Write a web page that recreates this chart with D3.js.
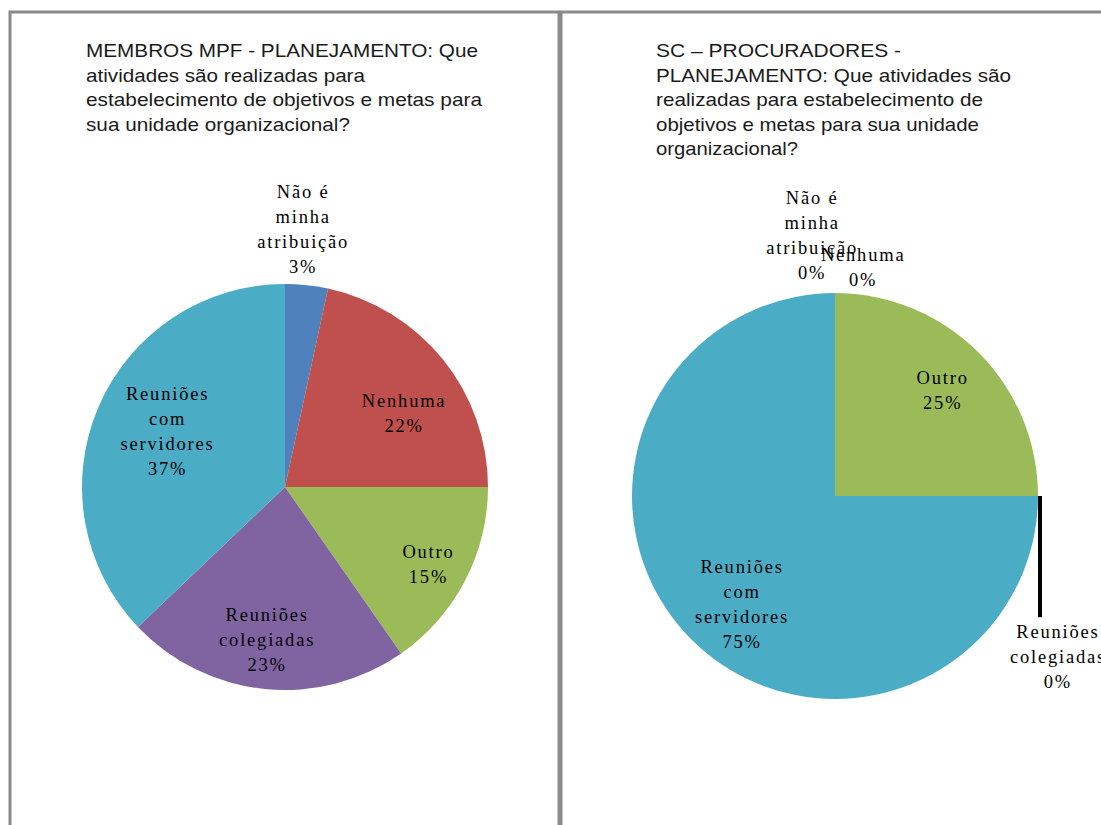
<!DOCTYPE html>
<html>
<head>
<meta charset="utf-8">
<script src="https://cdn.jsdelivr.net/npm/d3@7"></script>
<style>
  html, body { margin: 0; padding: 0; background: #fff; }
  svg { display: block; }
</style>
</head>
<body>
<svg id="chart" width="1101" height="825"></svg>
<script>
// ---------- DATA ----------
const categories = ["Não é minha atribuição", "Nenhuma", "Outro", "Reuniões colegiadas", "Reuniões com servidores"];
const categoryLabelLines = [["Não é", "minha", "atribuição"], ["Nenhuma"], ["Outro"], ["Reuniões", "colegiadas"], ["Reuniões", "com", "servidores"]];
const membrosValues = [3.4, 21.6, 15.3, 22.6, 37.1];
const procuradoresValues = [0, 0, 25, 0, 75];
const membrosTitle = ["MEMBROS MPF - PLANEJAMENTO: Que", "atividades são realizadas para", "estabelecimento de objetivos e metas para", "sua unidade organizacional?"];
const procuradoresTitle = ["SC – PROCURADORES -", "PLANEJAMENTO: Que atividades são", "realizadas para estabelecimento de", "objetivos e metas para sua unidade", "organizacional?"];
const sliceColors = ["#4F81BD", "#C0504D", "#9BBB59", "#8064A2", "#4BACC6"];

// ---------- LAYOUT ----------
const svg = d3.select("#chart");
const panels = [
  {
    values: membrosValues, title: membrosTitle,
    titleWidths: [392, 279, 396, 264],
    box: {x: 10, y: 12, w: 549, h: 900},
    titleX: 86, center: [285, 487], radius: 203,
    labelR: [259, 140, 163, 154, 130], labelDA: [-2.1, 7.2, 0.8, 0.9, 2.2],
    leader: [false, false, false, false, false]
  },
  {
    values: procuradoresValues, title: procuradoresTitle,
    titleWidths: [245, 355, 327, 323, 142],
    box: {x: 561, y: 12, w: 600, h: 900},
    titleX: 656, center: [835, 496], radius: 203,
    labelR: [262, 231, 151, 274.5, 142.5], labelDA: [-5, 7, 0.5, 35.7, -4.3],
    leader: [false, false, false, true, false]
  }
];

const lineH = 24.5;
const labelLineH = 25;

const pie = d3.pie().sort(null).value(d => d);

panels.forEach(p => {
  // frame
  svg.append("rect")
    .attr("x", p.box.x).attr("y", p.box.y)
    .attr("width", p.box.w).attr("height", p.box.h)
    .attr("fill", "none").attr("stroke", "#8a8a8a").attr("stroke-width", 3);

  // title
  const t = svg.append("text")
    .attr("font-family", "'Liberation Sans', Arial, sans-serif")
    .attr("font-size", 19)
    .attr("fill", "#1a1a1a");
  p.title.forEach((line, i) => {
    t.append("tspan")
      .attr("x", p.titleX)
      .attr("y", 57 + i * lineH)
      .attr("textLength", p.titleWidths[i])
      .attr("lengthAdjust", "spacingAndGlyphs")
      .text(line);
  });

  const g = svg.append("g").attr("transform", `translate(${p.center[0]},${p.center[1]})`);
  const arcs = pie(p.values);
  const arc = d3.arc().innerRadius(0).outerRadius(p.radius);

  g.selectAll("path.slice")
    .data(arcs)
    .join("path")
    .attr("class", "slice")
    .attr("d", arc)
    .attr("fill", (d, i) => sliceColors[i]);

  arcs.forEach((d, i) => {
    const mid = (d.startAngle + d.endAngle) / 2 + p.labelDA[i] * Math.PI / 180;
    const r = p.labelR[i];
    const lx = Math.sin(mid) * r;
    const ly = -Math.cos(mid) * r;
    const lines = categoryLabelLines[i].concat([Math.round(d.data) + "%"]);
    const firstY = ly - (lines.length - 1) * labelLineH / 2;

    if (p.leader[i]) {
      const amid = (d.startAngle + d.endAngle) / 2;
      const ex = Math.sin(amid) * (p.radius + 2);
      const ey = -Math.cos(amid) * p.radius;
      g.append("line")
        .attr("x1", ex).attr("y1", ey)
        .attr("x2", ex).attr("y2", firstY - 14)
        .attr("stroke", "#000").attr("stroke-width", 4);
    }

    const txt = g.append("text")
      .attr("font-family", "'Liberation Serif', 'Times New Roman', serif")
      .attr("font-size", 18.5)
      .attr("letter-spacing", 1.8)
      .attr("fill", "#000")
      .attr("text-anchor", "middle");
    lines.forEach((ln, j) => {
      txt.append("tspan")
        .attr("x", lx)
        .attr("y", firstY + j * labelLineH)
        .attr("dy", "0.35em")
        .text(ln);
    });
  });
});
</script>
</body>
</html>
